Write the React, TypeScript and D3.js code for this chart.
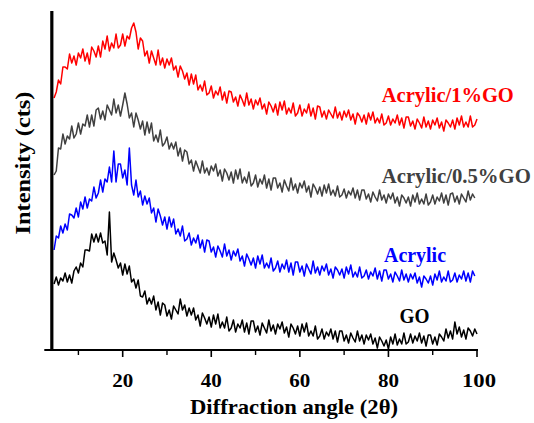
import React from "react";
import * as d3 from "d3";

// XRD patterns, every 0.5 degree (2θ) starting at 4.5.
// Intensities are in arbitrary stacked units (0 = x axis).
const START = 4.5;
const STEP = 0.5;

const acrylic1GO = [
  252, 258, 270, 266, 283, 283, 281, 296, 287, 294,
  285, 297, 292, 301, 289, 297, 286, 303, 299, 293,
  304, 293, 309, 301, 314, 299, 307, 302, 316, 302,
  305, 316, 304, 314, 311, 322, 327, 318, 301, 312,
  309, 294, 299, 287, 299, 292, 285, 300, 285, 292,
  282, 291, 285, 292, 280, 284, 273, 284, 279, 271,
  277, 265, 276, 266, 275, 260, 265, 259, 269, 255,
  257, 264, 252, 259, 255, 263, 250, 258, 247, 259,
  258, 248, 253, 244, 255, 250, 244, 257, 245, 251,
  241, 250, 245, 252, 241, 246, 236, 248, 244, 238,
  246, 235, 248, 240, 249, 236, 242, 237, 247, 234,
  237, 245, 234, 241, 237, 246, 234, 242, 231, 244,
  243, 233, 239, 231, 240, 236, 232, 243, 232, 238,
  230, 239, 233, 240, 230, 236, 226, 237, 234, 228,
  235, 226, 237, 230, 238, 227, 232, 227, 236, 225,
  227, 234, 225, 231, 227, 235, 225, 232, 222, 233,
  233, 224, 229, 221, 231, 227, 222, 233, 223, 229,
  221, 230, 225, 232, 222, 228, 219, 230, 227, 223,
  230, 221, 232, 225, 234, 223, 228, 223, 234, 223,
  225, 231,
];

const acrylic05GO = [
  175, 179, 202, 201, 216, 206, 214, 211, 224, 212,
  216, 227, 216, 226, 224, 235, 223, 235, 224, 240,
  242, 231, 239, 230, 245, 240, 235, 251, 237, 245,
  234, 245, 257, 246, 232, 237, 223, 237, 230, 221,
  229, 215, 228, 217, 227, 209, 215, 208, 220, 204,
  207, 213, 201, 207, 201, 208, 194, 202, 189, 200,
  198, 186, 190, 179, 189, 183, 177, 189, 177, 182,
  175, 184, 179, 186, 174, 180, 169, 181, 177, 170,
  178, 167, 180, 171, 181, 167, 173, 167, 178, 164,
  167, 175, 163, 171, 166, 175, 162, 171, 160, 172,
  172, 162, 167, 158, 170, 164, 159, 172, 160, 166,
  157, 167, 162, 169, 158, 164, 153, 166, 162, 156,
  163, 154, 165, 157, 166, 155, 160, 154, 164, 153,
  155, 161, 152, 159, 155, 162, 152, 160, 150, 160,
  160, 151, 156, 148, 158, 153, 149, 160, 150, 155,
  147, 156, 151, 157, 147, 153, 144, 155, 152, 147,
  153, 144, 155, 148, 157, 146, 151, 146, 156, 145,
  148, 155, 146, 153, 149, 157, 147, 155, 145, 156,
  157, 148, 154, 146, 156, 152, 148, 159, 150, 156,
  152,
];

const acrylic = [
  100, 114, 112, 124, 117, 126, 120, 136, 135, 132,
  142, 133, 148, 141, 153, 142, 151, 149, 163, 152,
  157, 170, 158, 171, 168, 183, 168, 199, 168, 186,
  186, 172, 180, 165, 202, 165, 155, 170, 153, 159,
  145, 154, 146, 152, 137, 142, 128, 141, 134, 125,
  133, 121, 133, 123, 131, 116, 121, 114, 124, 109,
  111, 117, 105, 112, 107, 115, 102, 110, 98, 110,
  109, 98, 103, 93, 104, 99, 93, 106, 94, 100,
  90, 99, 94, 101, 89, 94, 84, 96, 91, 85,
  92, 82, 94, 86, 95, 82, 87, 82, 92, 79,
  82, 89, 78, 86, 81, 90, 78, 87, 75, 88,
  88, 78, 84, 74, 86, 81, 76, 89, 77, 83,
  75, 84, 79, 86, 75, 81, 72, 83, 80, 75,
  81, 72, 83, 76, 85, 73, 78, 73, 83, 72,
  74, 80, 71, 78, 74, 82, 71, 79, 69, 80,
  80, 71, 76, 68, 78, 74, 69, 80, 70, 76,
  68, 76, 71, 77, 67, 73, 63, 74, 71, 67,
  74, 65, 76, 70, 79, 68, 73, 69, 79, 68,
  70, 77, 68, 75, 71, 79, 69, 77, 68, 79,
  74,
];

const go = [
  66, 73, 65, 72, 69, 77, 68, 75, 67, 79,
  83, 77, 87, 83, 100, 100, 99, 116, 108, 116,
  108, 117, 107, 109, 95, 138, 88, 97, 90, 82,
  87, 75, 86, 76, 84, 68, 71, 62, 70, 54,
  53, 59, 46, 52, 46, 54, 40, 48, 35, 47,
  45, 34, 40, 31, 44, 40, 36, 51, 40, 45,
  34, 42, 35, 42, 30, 35, 24, 37, 32, 26,
  33, 23, 35, 26, 36, 22, 28, 22, 33, 19,
  22, 30, 18, 26, 22, 30, 18, 27, 16, 29,
  29, 18, 24, 15, 27, 22, 17, 30, 19, 25,
  16, 26, 21, 28, 17, 23, 13, 26, 22, 16,
  24, 14, 26, 18, 27, 14, 19, 14, 24, 11,
  14, 21, 11, 18, 14, 21, 11, 19, 8, 19,
  19, 9, 15, 7, 17, 12, 8, 19, 9, 15,
  6, 15, 10, 16, 6, 12, 2, 13, 9, 4,
  10, 1, 13, 6, 16, 5, 11, 6, 17, 6,
  8, 16, 7, 14, 9, 17, 7, 14, 4, 15,
  15, 6, 13, 5, 16, 13, 9, 21, 12, 19,
  11, 28, 16, 23, 13, 20, 11, 22, 19, 14,
  21, 16,
];

const seriesNames = ["Acrylic/1%GO", "Acrylic/0.5%GO", "Acrylic", "GO"];
const seriesColors = ["#ff0000", "#404040", "#0000ff", "#000000"];
const seriesValues = [acrylic1GO, acrylic05GO, acrylic, go];
// label anchor: [2θ where label starts, intensity of label baseline]
const labelPos = [
  [78.5, 248],
  [78.5, 167],
  [79, 88],
  [82.5, 27],
];
const labelWidths = [132, 149, 62, 30];

const majorTicks = [20, 40, 60, 80, 100];
const minorTicks = [10, 30, 50, 70, 90];

const serif = "Liberation Serif";

export default function App() {
  const width = 534;
  const height = 423;

  const x = d3.scaleLinear().domain([2.3, 100]).range([44.3, 477]);
  const y = d3.scaleLinear().domain([0, 339]).range([350, 11]);

  const line = d3
    .line<number>()
    .x((_, i) => x(START + i * STEP))
    .y((d) => y(d));

  return (
    <svg
      width={width}
      height={height}
      style={{ position: "absolute", left: 0, top: 0, background: "#fff" }}
    >
      {seriesValues.map((vals, k) => (
        <path
          key={seriesNames[k]}
          d={line(vals) || ""}
          fill="none"
          stroke={seriesColors[k]}
          strokeWidth={1.5}
          strokeLinejoin="round"
        />
      ))}

      {/* x axis */}
      <line x1={x(2.3)} x2={x(100) + 1} y1={350} y2={350} stroke="#000" strokeWidth={2} />
      {majorTicks.map((t) => (
        <g key={t}>
          <line x1={x(t)} x2={x(t)} y1={350} y2={357} stroke="#000" strokeWidth={1.6} />
          <text
            x={x(t) + (t === 100 ? 2 : 0)}
            y={387}
            textAnchor="middle"
            fontFamily={serif}
            fontWeight="bold"
            fontSize={19}
            textLength={t === 100 ? 34 : 21}
            lengthAdjust="spacingAndGlyphs"
          >
            {t}
          </text>
        </g>
      ))}
      {minorTicks.map((t) => (
        <line key={t} x1={x(t)} x2={x(t)} y1={350} y2={355} stroke="#000" strokeWidth={1.4} />
      ))}

      {/* y axis */}
      <line x1={x(4)} x2={x(4)} y1={y(339)} y2={351} stroke="#000" strokeWidth={3.2} />

      <text
        x={294}
        y={414}
        textAnchor="middle"
        fontFamily={serif}
        fontWeight="bold"
        fontSize={21}
        textLength={208}
        lengthAdjust="spacingAndGlyphs"
      >
        Diffraction angle (2θ)
      </text>
      <text
        transform="translate(30,163) rotate(-90)"
        textAnchor="middle"
        fontFamily={serif}
        fontWeight="bold"
        fontSize={21}
        textLength={143}
        lengthAdjust="spacingAndGlyphs"
      >
        Intensity (cts)
      </text>

      {seriesNames.map((name, k) => (
        <text
          key={name}
          x={x(labelPos[k][0])}
          y={y(labelPos[k][1])}
          fill={seriesColors[k]}
          fontFamily={serif}
          fontWeight="bold"
          fontSize={20}
          textLength={labelWidths[k]}
          lengthAdjust="spacingAndGlyphs"
        >
          {name}
        </text>
      ))}
    </svg>
  );
}
